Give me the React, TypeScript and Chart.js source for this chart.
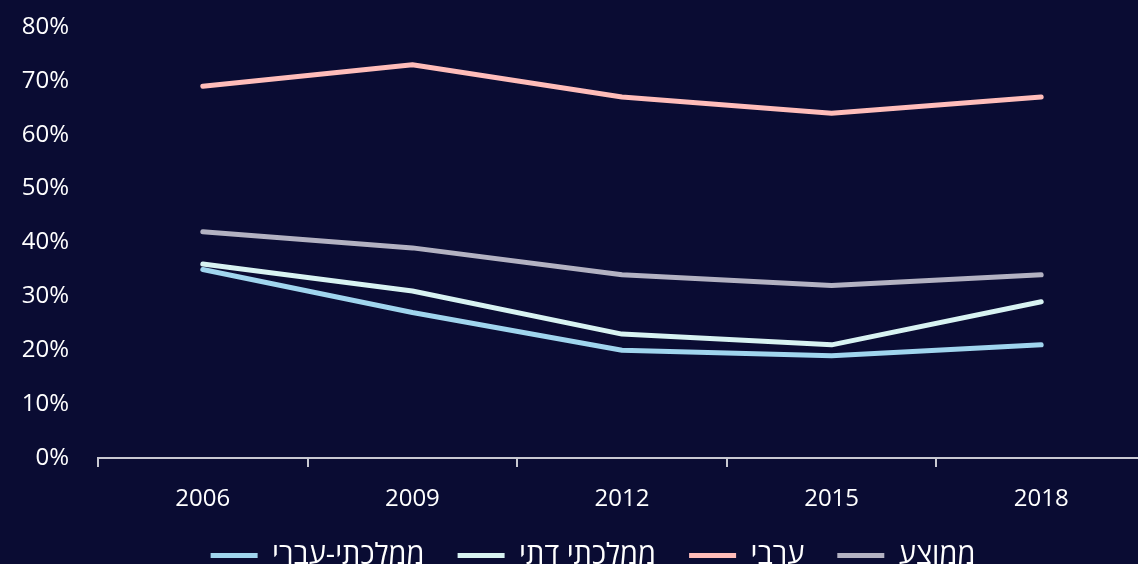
import React, { useEffect, useRef } from "react";
import { Chart, registerables } from "chart.js";

Chart.register(...registerables);

const years = ["2006", "2009", "2012", "2015", "2018"];
const seriesNames = ["ממלכתי-עברי", "ממלכתי דתי", "ערבי", "ממוצע"];
const mamlachtiIvri = [35, 27, 20, 19, 21];
const mamlachtiDati = [36, 31, 23, 21, 29];
const aravi = [69, 73, 67, 64, 67];
const memutza = [42, 39, 34, 32, 34];
const seriesColors = ["#a0d5ee", "#d8f3f2", "#ffbdba", "#b3b2c2"];
const yMin = 0;
const yMax = 80;
const yStep = 10;

const BG = "#0a0c33";
const FONT = "'Open Sans', 'Liberation Sans', 'DejaVu Sans', sans-serif";

const shiftLegend = {
  id: "shiftLegend",
  afterLayout(chart: any) {
    const lg = chart.legend;
    if (lg) {
      lg.left += 20;
      lg.right += 20;
    }
  },
};

export default function App() {
  const ref = useRef<HTMLCanvasElement | null>(null);

  useEffect(() => {
    const canvas = ref.current;
    if (!canvas) return;
    const values = [mamlachtiIvri, mamlachtiDati, aravi, memutza];
    const chart = new Chart(canvas, {
      type: "line",
      data: {
        labels: years,
        datasets: seriesNames.map((name, i) => ({
          label: name,
          data: values[i],
          borderColor: seriesColors[i],
          backgroundColor: seriesColors[i],
          borderWidth: 5,
          borderCapStyle: "round",
          borderJoinStyle: "round",
          pointRadius: 0,
          pointHoverRadius: 0,
          pointStyle: "line",
          tension: 0,
        })),
      },
      options: {
        responsive: false,
        animation: false,
        devicePixelRatio: 1,
        layout: { padding: { top: 27, left: 0, right: 0, bottom: 0 } },
        plugins: {
          tooltip: { enabled: false },
          legend: {
            position: "bottom",
            labels: {
              usePointStyle: true,
              pointStyleWidth: 47,
              padding: 33,
              color: "#ffffff",
              font: { family: FONT, size: 29 },
            },
          },
        },
        scales: {
          x: {
            offset: true,
            border: { display: true, color: "#c9c9d2", width: 2 },
            grid: {
              display: true,
              offset: true,
              drawOnChartArea: false,
              drawTicks: true,
              tickLength: 9,
              color: "#c9c9d2",
              lineWidth: 2,
            },
            ticks: {
              color: "#ffffff",
              padding: 18,
              maxRotation: 0,
              font: { family: FONT, size: 24 },
            },
            afterFit: (scale: any) => {
              scale.height = 50;
            },
          },
          y: {
            min: yMin,
            max: yMax,
            border: { display: false },
            grid: { display: false, drawTicks: false },
            ticks: {
              stepSize: yStep,
              color: "#ffffff",
              padding: 29,
              font: { family: FONT, size: 24 },
              callback: (v: any) => v + "%",
            },
            afterFit: (scale: any) => {
              scale.width = 98;
              scale.paddingTop = 0;
              scale.paddingBottom = 0;
            },
          },
        },
      },
      plugins: [shiftLegend],
    });
    return () => chart.destroy();
  }, []);

  return (
    <div
      style={{
        position: "fixed",
        left: 0,
        top: 0,
        width: 1138,
        height: 564,
        overflow: "hidden",
        background: BG,
      }}
    >
      <canvas ref={ref} width={1146} height={580} style={{ display: "block" }} />
    </div>
  );
}
